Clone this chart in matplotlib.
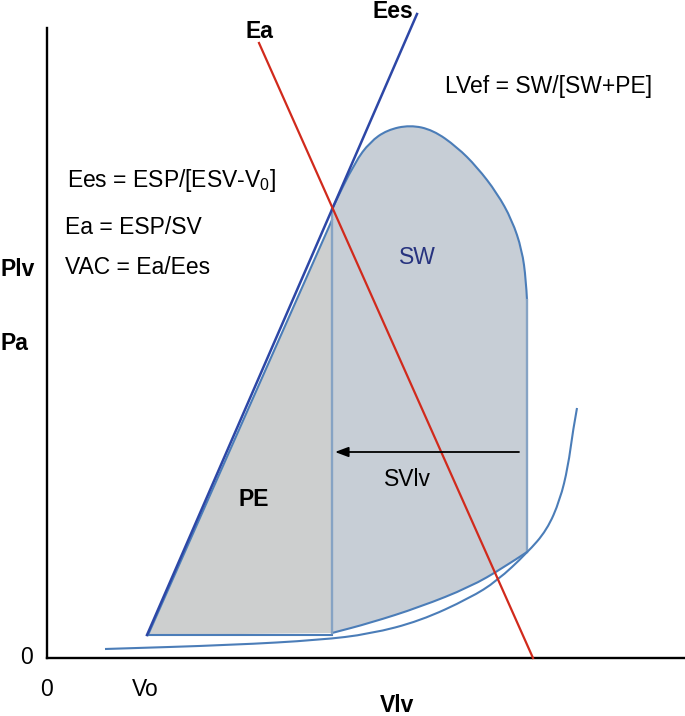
import matplotlib
matplotlib.use("Agg")
import matplotlib.pyplot as plt
from matplotlib.patches import PathPatch
from matplotlib.path import Path

plt.rcParams['font.family'] = ['Liberation Sans', 'DejaVu Sans']
plt.rcParams['mathtext.fontset'] = 'custom'
plt.rcParams['mathtext.rm'] = 'Liberation Sans'
plt.rcParams['mathtext.it'] = 'Liberation Sans:italic'

# ---- data (volume V, pressure P; schematic units) ----
V0 = 100
P_V0 = 23
ES = (285, 449)

ees_V = [100, 370]
ees_P = [23, 644]

ea_V = [212, 486]
ea_P = [615, 0]

# left (ejection end) edge of loop, from V0 up to the ESV vertical
loop_left_V = [101, 285]
loop_left_P = [23, 438]

# top of loop from ES to the right vertical
loop_top_V = [285, 308, 323, 340, 363, 386, 410, 430, 450, 465, 475, 479, 480]
loop_top_P = [449, 496, 516, 528, 533, 528, 511, 491, 465, 438, 408, 378, 358]

# right vertical (isovolumic) bottom
EDV = 480
EDP = 106

# filling curve from ESV to EDV
fill_V = [285, 323, 373, 423, 456, 480]
fill_P = [25, 35, 51, 71, 90, 106]

# EDPVR curve
edpvr_V = [58, 186, 273, 323, 373, 423, 450, 480, 500, 513, 521, 526, 530]
edpvr_P = [9, 13, 18, 24, 37, 60, 77, 105, 128, 158, 191, 228, 250]

# arrow (stroke volume)
arrow_from = (472, 206)
arrow_to = (288, 206)

# ---- colours ----
c_ees = '#2d47a6'
c_loop = '#4b7db8'
c_inner = '#86a3c4'
c_red = '#d12a1c'
c_sw = '#c7ced6'
c_pe = '#cdcfcf'
c_swtxt = '#27337f'


def smooth_path_vertices(xs, ys):
    """Quadratic B-spline style path through given control points."""
    pts = list(zip(xs, ys))
    verts = [pts[0]]
    codes = [Path.MOVETO]
    if len(pts) <= 2:
        verts.append(pts[-1])
        codes.append(Path.LINETO)
        return verts, codes
    verts.append(((pts[0][0] + pts[1][0]) / 2, (pts[0][1] + pts[1][1]) / 2))
    codes.append(Path.LINETO)
    for i in range(1, len(pts) - 1):
        mid = ((pts[i][0] + pts[i + 1][0]) / 2, (pts[i][1] + pts[i + 1][1]) / 2)
        if i == len(pts) - 2:
            mid = pts[-1]
        verts += [pts[i], mid]
        codes += [Path.CURVE3, Path.CURVE3]
    return verts, codes


def smooth_line(ax, xs, ys, **kw):
    v, c = smooth_path_vertices(xs, ys)
    ax.add_patch(PathPatch(Path(v, c), facecolor='none', **kw))


fig = plt.figure(figsize=(6.85, 7.16), dpi=100)
ax = fig.add_axes([0, 0, 1, 1])
ax.set_xlim(-47, 638)
ax.set_ylim(-58, 658)
ax.axis('off')

# SW region
v_top, c_top = smooth_path_vertices(loop_top_V, loop_top_P)
v_fill, c_fill = smooth_path_vertices(fill_V[::-1], fill_P[::-1])
sw_verts = v_top + [(EDV, EDP)] + v_fill[1:] + [v_top[0]]
sw_codes = c_top + [Path.LINETO] + c_fill[1:] + [Path.CLOSEPOLY]
ax.add_patch(PathPatch(Path(sw_verts, sw_codes), facecolor=c_sw, edgecolor='none', zorder=1))
# PE region
pe_verts = [(loop_left_V[0], loop_left_P[0]), (loop_left_V[1], loop_left_P[1]),
            (ES[0], fill_P[0]), (loop_left_V[0], loop_left_P[0])]
ax.add_patch(PathPatch(Path(pe_verts, [Path.MOVETO, Path.LINETO, Path.LINETO, Path.CLOSEPOLY]),
                       facecolor=c_pe, edgecolor='none', zorder=1))

lw_loop = 1.5
# loop outline
ax.plot(loop_left_V, loop_left_P, color=c_loop, lw=lw_loop, zorder=3)
smooth_line(ax, loop_top_V, loop_top_P, edgecolor=c_loop, lw=lw_loop, zorder=3)
ax.plot([EDV, EDV], [loop_top_P[-1], EDP], color=c_inner, lw=1.7, zorder=3)
smooth_line(ax, fill_V, fill_P, edgecolor=c_loop, lw=lw_loop, zorder=3)
ax.plot([V0, ES[0]], [P_V0, P_V0], color=c_loop, lw=lw_loop, zorder=3)
ax.plot([ES[0], ES[0]], [fill_P[0], ES[1]], color=c_inner, lw=1.7, zorder=3)

# EDPVR
smooth_line(ax, edpvr_V, edpvr_P, edgecolor=c_loop, lw=lw_loop, zorder=3)

# Ees and Ea lines
ax.plot(ees_V, ees_P, color=c_ees, lw=1.8, zorder=4)
ax.plot(ea_V, ea_P, color=c_red, lw=1.6, zorder=4)

# arrow
ax.annotate('', xy=arrow_to, xytext=arrow_from,
            arrowprops=dict(arrowstyle='-|>,head_length=0.8,head_width=0.3',
                            color='black', lw=1.3, shrinkA=0, shrinkB=0), zorder=5)

# axes
ax.plot([0, 0], [0, 630], color='black', lw=1.7, zorder=2)
ax.plot([0, 638], [0, 0], color='black', lw=1.7, zorder=2)

fs = 16.5
ax.text(212, 626, 'Ea', fontsize=fs, fontweight='bold', ha='center', va='center')
ax.text(346, 646, 'Ees', fontsize=fs, fontweight='bold', ha='center', va='center')
ax.text(398, 571, 'LVef = SW/[SW+PE]', fontsize=fs, ha='left', va='center')
ax.text(20, 478, 'Ees = ESP/[ESV-V$_0$]', fontsize=fs, ha='left', va='center')
ax.text(18, 430, 'Ea = ESP/SV', fontsize=fs, ha='left', va='center')
ax.text(18, 390, 'VAC = Ea/Ees', fontsize=fs, ha='left', va='center')
ax.text(-47, 388, 'Plv', fontsize=fs, fontweight='bold', ha='left', va='center')
ax.text(-47, 315, 'Pa', fontsize=fs, fontweight='bold', ha='left', va='center')
ax.text(370, 400, 'SW', fontsize=fs, color=c_swtxt, ha='center', va='center')
ax.text(360, 178, 'SVlv', fontsize=fs, ha='center', va='center')
ax.text(207, 158, 'PE', fontsize=fs, fontweight='bold', ha='center', va='center')
ax.text(-20, 1, '0', fontsize=fs, ha='center', va='center')
ax.text(0, -32, '0', fontsize=fs, ha='center', va='center')
ax.text(98, -32, 'Vo', fontsize=fs, ha='center', va='center')
ax.text(350, -47, 'Vlv', fontsize=fs, fontweight='bold', ha='center', va='center')

fig.savefig('out.png', dpi=100)
